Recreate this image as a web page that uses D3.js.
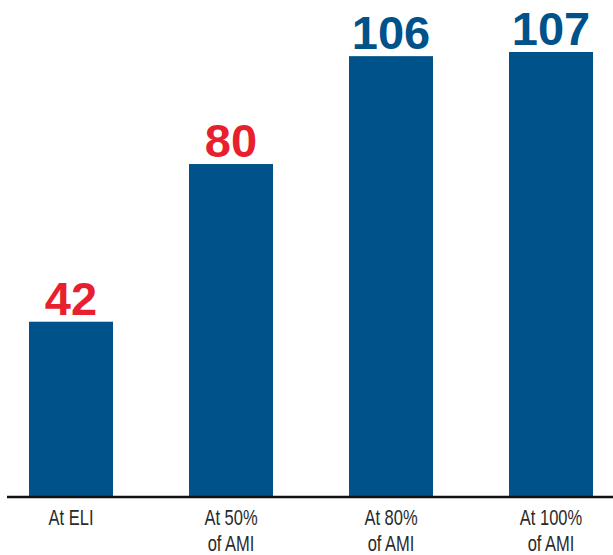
<!DOCTYPE html>
<html>
<head>
<meta charset="utf-8">
<script src="https://cdn.jsdelivr.net/npm/d3@7/dist/d3.min.js"></script>
<style>
  html, body { margin: 0; padding: 0; background: #fff; }
  svg { display: block; }
</style>
</head>
<body>
<svg id="chart" width="613" height="555"></svg>
<script>
// Data
const categories = ["At ELI", "At 50% of AMI", "At 80% of AMI", "At 100% of AMI"];
const categoryLines = [["At ELI"], ["At 50%", "of AMI"], ["At 80%", "of AMI"], ["At 100%", "of AMI"]];
const values = [42, 80, 106, 107];

const BLUE = "#00528a";
const RED = "#e81f2e";

const svg = d3.select("#chart");
const baseY = 496;

const x = d3.scaleBand()
  .domain(categories)
  .range([29, 593])
  .paddingInner(0.475)
  .paddingOuter(0);

const y = d3.scaleLinear()
  .domain([0, 107])
  .range([baseY, 52]);

// Bars
svg.append("g").selectAll("rect")
  .data(values)
  .join("rect")
  .attr("x", (d, i) => x(categories[i]))
  .attr("y", d => y(d))
  .attr("width", x.bandwidth())
  .attr("height", d => y(0) - y(d))
  .attr("fill", BLUE);

// Value labels
svg.append("g").selectAll("text")
  .data(values)
  .join("text")
  .attr("x", (d, i) => x(categories[i]) + x.bandwidth() / 2)
  .attr("y", d => y(d) - 7)
  .attr("text-anchor", "middle")
  .attr("font-family", "'Liberation Sans', Arial, sans-serif")
  .attr("font-weight", "bold")
  .attr("font-size", 47)
  .attr("fill", d => d < 100 ? RED : BLUE)
  .text(d => d);

// Baseline
svg.append("line")
  .attr("x1", 7).attr("x2", 613)
  .attr("y1", baseY + 1).attr("y2", baseY + 1)
  .attr("stroke", "#111")
  .attr("stroke-width", 2.5);

// Category labels
const axis = d3.axisBottom(x).tickSize(0).tickFormat(() => "");
const gAxis = svg.append("g").attr("transform", `translate(0,${baseY})`).call(axis);
gAxis.select(".domain").remove();
gAxis.selectAll(".tick text").remove();
gAxis.selectAll(".tick").each(function(d, i) {
  const t = d3.select(this).append("text")
    .attr("text-anchor", "middle")
    .attr("transform", "scale(0.75,1)")
    .attr("font-family", "'Liberation Sans', Arial, sans-serif")
    .attr("font-size", 22)
    .attr("fill", "#2a2a2a");
  categoryLines[i].forEach((line, j) => {
    t.append("tspan").attr("x", 0).attr("y", 29 + j * 26).text(line);
  });
});
</script>
</body>
</html>
